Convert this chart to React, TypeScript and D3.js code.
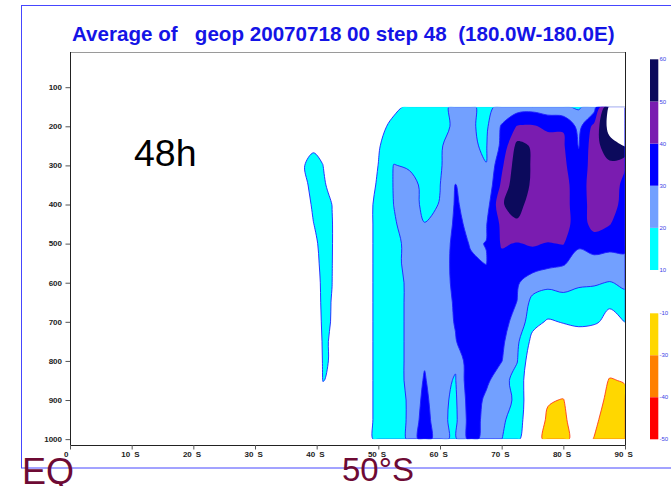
import React from "react";
import * as d3 from "d3";

// Grid columns (degrees south) and pressure levels (hPa)
const latitudes = [36, 38, 39.5, 41, 42.5, 44, 47, 50, 52.5, 55, 57.5, 60, 62.5, 65, 67.5, 70, 72.5, 75, 77.5, 80, 82.5, 85, 87.5, 90];
const pressureLevels = [150, 200, 250, 300, 350, 400, 450, 500, 550, 600, 650, 700, 750, 800, 850, 900, 950, 1000];

// Zonal-mean geopotential anomaly at each level, one value per latitude column
const lev150 = [3, 4, 5, 5, 4, 3, 3, 5, 7, 12, 16, 18, 21.5, 21, 18, 22, 25, 26, 24, 21, 18.7, 25, 62, 70];
const lev200 = [3, 5, 6, 6, 5, 3, 3, 6, 13.4, 15, 17, 18, 21.1, 20.7, 18.5, 31, 40.5, 41, 38, 39.5, 27, 43, 64, 70];
const lev250 = [4, 8, 8.9, 8, 6, 4, 3, 9.3, 15, 16, 18, 19.5, 22.3, 20.5, 19.5, 32, 53, 49, 45, 41, 29.5, 46, 56, 60.5];
const lev300 = [5, 9.9, 12, 10.1, 6, 4, 4, 10.1, 20.3, 19, 18.5, 19.7, 22, 21, 20.1, 38, 56, 49, 45, 42, 33, 45, 48, 41];
const lev350 = [4, 8, 13, 12, 6, 4, 4, 11, 20.5, 23, 18, 19.8, 30.3, 25, 22, 42, 58, 48, 46, 44, 34, 46, 46, 37];
const lev400 = [3, 6, 11.5, 14, 9.9, 4, 4, 12.5, 20.1, 24, 18, 20.3, 31, 27, 25, 49, 55, 44, 46, 45, 33, 46, 45, 36];
const lev450 = [2, 4, 9.9, 13, 10.3, 4, 4, 12.5, 19, 24, 20.2, 21.5, 32, 28, 29.5, 42, 48, 47, 47, 45, 34, 44, 40.5, 34];
const lev500 = [2, 4, 8, 12.5, 10.3, 4, 4, 12.5, 18, 22, 23, 24, 33, 29.5, 30.1, 41, 39.5, 41, 39.5, 40.5, 31.5, 34, 31.5, 31];
const lev550 = [2, 3, 7, 12, 10.2, 3, 4, 12.5, 17, 23, 24, 25, 33, 31, 29.8, 37, 36, 35, 33, 31, 26, 27, 28, 29];
const lev600 = [2, 3, 6, 11.5, 10.05, 3, 4, 12.5, 16, 22, 25, 26, 32, 34, 33, 34, 31, 25, 22, 23, 21, 21, 19.5, 21.5];
const lev650 = [2, 3, 5, 11.5, 9.8, 3, 4, 12.5, 16, 22, 25, 26, 31, 35, 35, 33, 29.9, 17, 16, 17, 17, 15, 11, 17];
const lev700 = [2, 3, 5, 11, 9.8, 3, 4, 12.5, 16, 22, 25, 26, 30.5, 35, 34, 32, 28, 13, 9, 10.5, 12, 11, 8, 10.1];
const lev750 = [2, 3, 4, 10.6, 9.6, 3, 4, 12.5, 16, 22, 25, 27, 29.5, 36, 35, 32, 22, 7, 5, 4, 4, 4, 4, 4];
const lev800 = [2, 3, 4, 10.3, 9.8, 3, 4, 12.5, 16, 22, 29, 23, 21, 38, 35, 30.3, 20.5, 2, 3, 3, 3, 2, -3, -1];
const lev850 = [2, 3, 4, 10.1, 9.5, 3, 4, 12.5, 16, 22, 31, 22, 19.5, 38, 32, 24, 16, 2, 0, -2, 0, 0, -11, -9];
const lev900 = [2, 3, 4, 8, 7, 3, 4, 12.5, 16, 21, 33, 22, 18.5, 36, 28, 24, 18, 0, -9, -10.5, 2, -5, -13, -14];
const lev950 = [2, 3, 3, 5, 5, 3, 4, 12.5, 16, 21, 35, 22, 18, 35, 27, 21.5, 16, 0, -12, -13, 0, -7, -17, -18];
const lev1000 = [2, 3, 3, 4, 4, 3, 4, 12.5, 16, 21, 37, 22, 18.5, 34, 26, 20.1, 13, -3, -14, -15, -2, -10.5, -18, -20];

const field = [lev150, lev200, lev250, lev300, lev350, lev400, lev450, lev500, lev550,
  lev600, lev650, lev700, lev750, lev800, lev850, lev900, lev950, lev1000];

// Shading levels
const positiveLevels = [10, 20, 30, 40, 50, 60];
const positiveColors = ["#00ffff", "#72a0ff", "#0000ff", "#7a1cb0", "#0c0a5c", "#ffffff"];
const negativeLevels = [-10, -30, -40];
const negativeColors = ["#ffd700", "#ff8000", "#ff0000"];
const upperBarLabels = ["60", "50", "40", "30", "20", "10"];
const lowerBarLabels = ["-10", "-30", "-40", "-50"];

const pressureTicks = [100, 200, 300, 400, 500, 600, 700, 800, 900, 1000];
const latTicks = [0, 10, 20, 30, 40, 50, 60, 70, 80, 90];

const titleText = "Average of   geop 20070718 00 step 48  (180.0W-180.0E)";

const PLOT = { left: 70, right: 625, top: 52, bottom: 445 };

const xScale = d3.scaleLinear().domain([0, 90]).range([PLOT.left, PLOT.right]);
const yScale = d3.scaleLinear().domain([10, 1015]).range([PLOT.top, PLOT.bottom]);

const nx = latitudes.length;
const ny = pressureLevels.length;
const colToLat = d3.scaleLinear().domain(d3.range(nx)).range(latitudes);
const rowToP = d3.scaleLinear().domain(d3.range(ny)).range(pressureLevels);

function project(pt: number[]): [number, number] {
  const i = Math.max(0, Math.min(nx - 1, pt[0] - 0.5));
  const j = Math.max(0, Math.min(ny - 1, pt[1] - 0.5));
  return [xScale(colToLat(i)), yScale(rowToP(j))];
}

// Smooth closed rings through the projected contour vertices
const ringLine = d3.line<[number, number]>().curve(d3.curveCatmullRomClosed.alpha(0.5));

function toPath(geom: any): string {
  return geom.coordinates
    .map((poly: number[][][]) =>
      poly
        .map((ring) => {
          const pts = ring.slice(0, -1).map(project);
          return ringLine(pts) || "";
        })
        .join("")
    )
    .join("");
}

export default function App() {
  const values = field.flat();
  const posContours = d3.contours().size([nx, ny]).thresholds(positiveLevels)(values);
  const negContours = d3.contours().size([nx, ny]).thresholds(negativeLevels.map((v) => -v))(values.map((v) => -v));

  const dataLeft = xScale(latitudes[0]);
  const dataRight = xScale(latitudes[nx - 1]);
  const dataTop = yScale(pressureLevels[0]);
  const dataBottom = yScale(pressureLevels[ny - 1]);

  const upperBar = d3.scaleLinear().domain([10, 60]).range([270, 59.3]);
  const lowerBar = d3.scaleLinear().domain([0, 3]).range([313.3, 439.3]);
  const barX = 650;
  const barW = 8.3;

  const font = "'Liberation Sans', Arial, sans-serif";

  return (
    <svg width={671} height={486} style={{ position: "absolute", left: 0, top: 0, background: "#fff" }} fontFamily={font}>
      <defs>
        <clipPath id="dataArea">
          <rect x={dataLeft} y={dataTop} width={dataRight - dataLeft} height={dataBottom - dataTop} />
        </clipPath>
        <clipPath id="inner">
          <rect x={dataLeft + 1} y={dataTop + 1} width={dataRight - dataLeft - 1.5} height={dataBottom - dataTop - 1.5} />
        </clipPath>
      </defs>
      <rect x={0} y={0} width={671} height={486} fill="#fff" />
      {/* outer page frame */}
      <rect x={21.5} y={5.5} width={720} height={462.5} fill="none" stroke="#4646ff" strokeWidth={1} />

      {/* title */}
      <text x={72} y={41} fontSize={20.6} fontWeight="bold" fill="#1414e6" xmlSpace="preserve" style={{ whiteSpace: "pre" }}>
        {titleText}
      </text>

      {/* filled contours */}
      <g clipPath="url(#dataArea)">
        {posContours.map((c, k) =>
          c.coordinates.length ? <path key={"pf" + k} d={toPath(c)} fill={positiveColors[k]} fillRule="evenodd" /> : null
        )}
        {negContours.map((c, k) =>
          c.coordinates.length ? <path key={"nf" + k} d={toPath(c)} fill={negativeColors[k]} fillRule="evenodd" /> : null
        )}
      </g>
      {/* contour lines */}
      <g clipPath="url(#inner)" fill="none">
        {posContours.slice(0, 3).map((c, k) =>
          c.coordinates.length ? <path key={"pl" + k} d={toPath(c)} stroke="#1e1eff" strokeWidth={0.9} /> : null
        )}
        {negContours.slice(0, 1).map((c, k) =>
          c.coordinates.length ? <path key={"nl" + k} d={toPath(c)} stroke="#ff3a1a" strokeWidth={0.9} /> : null
        )}
      </g>

      {/* plot frame */}
      <line x1={PLOT.left} x2={PLOT.right} y1={PLOT.top + 0.5} y2={PLOT.top + 0.5} stroke="#9a9a9a" strokeWidth={1.2} />
      <line x1={PLOT.left + 0.5} x2={PLOT.left + 0.5} y1={PLOT.top} y2={PLOT.bottom} stroke="#222" strokeWidth={1} />
      <line x1={PLOT.right + 0.5} x2={PLOT.right + 0.5} y1={PLOT.top} y2={PLOT.bottom} stroke="#222" strokeWidth={1} />
      <line x1={PLOT.left} x2={PLOT.right + 1} y1={PLOT.bottom + 0.5} y2={PLOT.bottom + 0.5} stroke="#222" strokeWidth={1} />

      {/* pressure axis */}
      {pressureTicks.map((p) => (
        <g key={"yt" + p}>
          <line x1={65.5} x2={PLOT.left} y1={yScale(p) + 0.5} y2={yScale(p) + 0.5} stroke="#555" strokeWidth={1} />
          <text x={62} y={yScale(p)} dy="0.35em" textAnchor="end" fontSize={8} fontWeight="bold" fill="#222">
            {p}
          </text>
        </g>
      ))}

      {/* latitude axis */}
      {latTicks.map((lat) => (
        <g key={"xt" + lat}>
          <line x1={xScale(lat) + 0.5} x2={xScale(lat) + 0.5} y1={PLOT.bottom} y2={PLOT.bottom + 4.5} stroke="#555" strokeWidth={1} />
          <text x={xScale(lat) - 1.5} y={457} textAnchor="end" fontSize={8} fontWeight="bold" fill="#222">
            {lat}
          </text>
          {lat > 0 ? (
            <text x={xScale(lat) + 2.5} y={457} fontSize={8} fontWeight="bold" fill="#222">
              S
            </text>
          ) : null}
        </g>
      ))}

      {/* forecast step annotation */}
      <text x={134} y={166} fontSize={37.5} fill="#000">48h</text>

      {/* colour bars */}
      {positiveColors.slice(0, 5).map((col, k) => (
        <rect key={"ub" + k} x={barX} y={upperBar(positiveLevels[k + 1])} width={barW}
          height={upperBar(positiveLevels[k]) - upperBar(positiveLevels[k + 1])} fill={col} />
      ))}
      {upperBarLabels.map((lab, k) => (
        <text key={"ul" + k} x={barX + barW + 1.2} y={upperBar(60 - k * 10)} dy="0.35em" fontSize={6} fill="#3c3ce6">
          {lab}
        </text>
      ))}
      {negativeColors.map((col, k) => (
        <rect key={"lb" + k} x={barX} y={lowerBar(k)} width={barW} height={lowerBar(k + 1) - lowerBar(k)} fill={col} />
      ))}
      {lowerBarLabels.map((lab, k) => (
        <text key={"ll" + k} x={barX + barW + 1.2} y={lowerBar(k)} dy="0.35em" fontSize={6} fill="#3c3ce6">
          {lab}
        </text>
      ))}

      {/* section end labels */}
      <text x={22} y={484} fontSize={36} fill="#6e0a34">EQ</text>
      <text x={342} y={480.5} fontSize={33} fill="#6e0a34">50°S</text>
    </svg>
  );
}
